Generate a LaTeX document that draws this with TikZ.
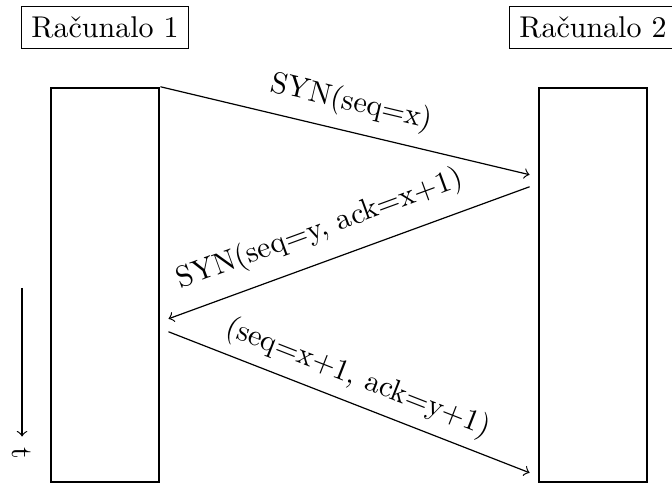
\documentclass[tikz,border=0pt]{standalone}
\usepackage[utf8]{inputenc}
\usepackage{tikz}
\usetikzlibrary{positioning}

\begin{document}
\begin{tikzpicture}[
    racbox/.style={rectangle, draw, thick, minimum width=1.27cm, minimum height=4.614cm},
    naslov/.style={rectangle, draw},
    poruka/.style={->}
]
\useasboundingbox (0,0) rectangle (7.869,-5.714);

\node[racbox] (rac1) at (1.230,-3.337) {};
\node[racbox] (rac2) at (6.944,-3.337) {};
\node[naslov, above=0.445cm of rac1] (lab1) {Računalo 1};
\node[naslov, above=0.445cm of rac2] (lab2) {Računalo 2};

\coordinate (s1) at (rac1.north east);
\coordinate (e1) at ([shift={(-0.094,-1.030)}]rac2.north west);
\coordinate (s2) at ([shift={(-0.094,-1.171)}]rac2.north west);
\coordinate (e2) at ([shift={(0.094,-2.717)}]rac1.north east);
\coordinate (s3) at ([shift={(0.094,-2.869)}]rac1.north east);
\coordinate (e3) at ([shift={(-0.094,-4.520)}]rac2.north west);

\draw[poruka] (s1) -- node[midway, above=1pt, sloped] {SYN(seq=x)} (e1);
\draw[poruka] (s2) -- node[pos=0.55, above=2pt, sloped] {SYN(seq=y, ack=x+1)} (e2);
\draw[poruka] (s3) -- node[midway, above, sloped] {(seq=x+1, ack=y+1)} (e3);

% vrijeme
\coordinate (tpoc) at (0.258,-3.372);
\node[rotate=-90] (tlab) at (0.258,-5.304) {t};
\draw[->] (tpoc) -- (tlab.west);
\end{tikzpicture}
\end{document}
